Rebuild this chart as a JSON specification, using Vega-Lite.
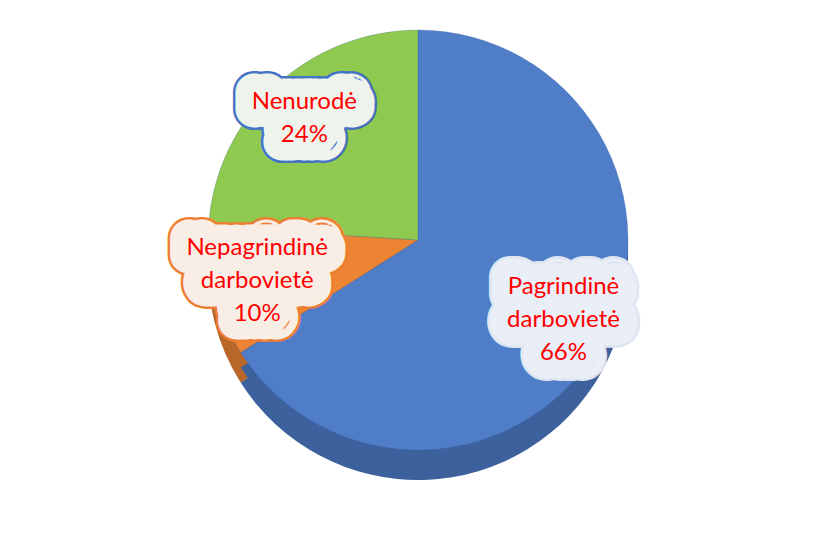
{
  "$schema": "https://vega.github.io/schema/vega-lite/v6.json",
  "autosize": {"type": "fit", "contains": "padding"},
  "width": 816,
  "height": 542,
  "padding": {"left": 8, "top": -64, "right": -12, "bottom": -2},
  "background": "white",
  "config": {"view": {"stroke": "#d9d9d9", "strokeWidth": 1.5}},
  "data": {
    "values": [
      {"category": "Pagrindinė darbovietė", "share": 66},
      {"category": "Nepagrindinė darbovietė", "share": 10},
      {"category": "Nenurodė", "share": 24}
    ]
  },
  "transform": [
    {"calculate": "datum.category + ' ' + datum.share + '%'", "as": "label"}
  ],
  "encoding": {
    "theta": {"field": "share", "type": "quantitative", "stack": true},
    "order": {"field": "category", "type": "ordinal", "sort": "descending"},
    "color": {
      "field": "category",
      "type": "nominal",
      "scale": {
        "domain": ["Pagrindinė darbovietė", "Nepagrindinė darbovietė", "Nenurodė"],
        "range": ["#4f7dc8", "#ec8434", "#8fc94f"]
      },
      "legend": null
    }
  },
  "layer": [
    {"mark": {"type": "arc", "radius": 210, "yOffset": 30}},
    {"mark": {"type": "arc", "radius": 210, "yOffset": 30, "fill": "#000000", "fillOpacity": 0.22}},
    {"mark": {"type": "arc", "radius": 210, "yOffset": 15}},
    {"mark": {"type": "arc", "radius": 210, "yOffset": 15, "fill": "#000000", "fillOpacity": 0.22}},
    {"mark": {"type": "arc", "radius": 210, "stroke": "#3b5f9e", "strokeWidth": 0.5, "strokeOpacity": 0.5}},
    {
      "mark": {
        "type": "text",
        "radius": 166,
        "font": "Lato",
        "fontSize": 24,
        "lineBreak": " ",
        "lineHeight": 33,
        "baseline": "middle",
        "align": "center",
        "strokeWidth": 42,
        "strokeJoin": "round",
        "strokeCap": "round",
        "dy": {"expr": "-16.5 * (length(split(datum.label, ' ')) - 1)"}
      },
      "encoding": {
        "text": {"field": "label"},
        "color": {"value": "#ffffff"},
        "stroke": {
          "field": "category",
          "type": "nominal",
          "scale": {
            "domain": ["Pagrindinė darbovietė", "Nepagrindinė darbovietė", "Nenurodė"],
            "range": ["#dfe6f2", "#ed7d31", "#4472c4"]
          },
          "legend": null
        }
      }
    },
    {
      "mark": {
        "type": "text",
        "radius": 166,
        "font": "Lato",
        "fontSize": 24,
        "lineBreak": " ",
        "lineHeight": 33,
        "baseline": "middle",
        "align": "center",
        "strokeWidth": 37,
        "strokeJoin": "round",
        "strokeCap": "round",
        "dy": {"expr": "-16.5 * (length(split(datum.label, ' ')) - 1)"}
      },
      "encoding": {
        "text": {"field": "label"},
        "fill": {
          "field": "category",
          "type": "nominal",
          "scale": {
            "domain": ["Pagrindinė darbovietė", "Nepagrindinė darbovietė", "Nenurodė"],
            "range": ["#e9eef7", "#f9eee6", "#eef4ec"]
          },
          "legend": null
        },
        "stroke": {
          "field": "category",
          "type": "nominal",
          "scale": {
            "domain": ["Pagrindinė darbovietė", "Nepagrindinė darbovietė", "Nenurodė"],
            "range": ["#e9eef7", "#f9eee6", "#eef4ec"]
          },
          "legend": null
        }
      }
    },
    {
      "mark": {
        "type": "text",
        "radius": 166,
        "font": "Lato",
        "fontSize": 24,
        "lineBreak": " ",
        "lineHeight": 33,
        "baseline": "middle",
        "align": "center",
        "dy": {"expr": "-16.5 * (length(split(datum.label, ' ')) - 1)"}
      },
      "encoding": {"text": {"field": "label"}, "color": {"value": "#ff0000"}}
    }
  ],
  "resolve": {"scale": {"stroke": "independent", "fill": "independent"}}
}
